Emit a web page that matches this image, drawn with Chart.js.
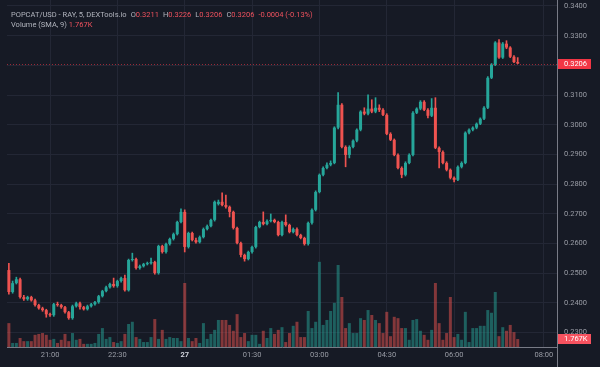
<!DOCTYPE html>
<html>
<head>
<meta charset="utf-8">
<script src="https://cdn.jsdelivr.net/npm/chart.js@4.4.1/dist/chart.umd.min.js"></script>
<style>
html,body{margin:0;padding:0;background:#161a25;}
#wrap{position:relative;width:600px;height:367px;overflow:hidden;background:#161a25;}
#c{position:absolute;left:0;top:0;}
#legend{position:absolute;left:11px;top:10px;font-family:Roboto,"Liberation Sans",sans-serif;font-size:7.5px;line-height:10px;color:#b2b5be;white-space:nowrap;}
#legend .v{color:#f0525e;}
#legend .k{margin-left:4px;}
</style>
</head>
<body>
<div id="wrap">
<canvas id="c" width="600" height="367"></canvas>
<div id="legend"></div>
</div>
<script>
// ---- categories (5-minute candles) ----
const times = [
"20:05","20:10","20:15","20:20","20:25","20:30","20:35","20:40","20:45","20:50","20:55",
"21:00","21:05","21:10","21:15","21:20","21:25","21:30","21:35","21:40","21:45","21:50","21:55",
"22:00","22:05","22:10","22:15","22:20","22:25","22:30","22:35","22:40","22:45","22:50","22:55",
"23:00","23:05","23:10","23:15","23:20","23:25","23:30","23:35","23:40","23:45","23:50","23:55",
"00:00","00:05","00:10","00:15","00:20","00:25","00:30","00:35","00:40","00:45","00:50","00:55",
"01:00","01:05","01:10","01:15","01:20","01:25","01:30","01:35","01:40","01:45","01:50","01:55",
"02:00","02:05","02:10","02:15","02:20","02:25","02:30","02:35","02:40","02:45","02:50","02:55",
"03:00","03:05","03:10","03:15","03:20","03:25","03:30","03:35","03:40","03:45","03:50","03:55",
"04:00","04:05","04:10","04:15","04:20","04:25","04:30","04:35","04:40","04:45","04:50","04:55",
"05:00","05:05","05:10","05:15","05:20","05:25","05:30","05:35","05:40","05:45","05:50","05:55",
"06:00","06:05","06:10","06:15","06:20","06:25","06:30","06:35","06:40","06:45","06:50","06:55",
"07:00","07:05","07:10","07:15","07:20","07:25","07:30","07:35","07:40","07:45","07:50","07:55",
"08:00","08:05","08:10","08:15"];

// ---- OHLC series ----
const openP = [
0.2510,0.2436,0.2466,0.2479,0.2419,0.2412,0.2419,0.2408,0.2392,0.2381,
0.2375,0.2361,0.2358,0.2395,0.2392,0.2385,0.2368,0.2348,0.2388,0.2398,
0.2385,0.2378,0.2388,0.2395,0.2402,0.2422,0.2439,0.2452,0.2463,0.2456,
0.2473,0.2483,0.2442,0.2544,0.2547,0.2517,0.2523,0.2530,0.2533,0.2537,
0.2500,0.2591,0.2571,0.2598,0.2615,0.2631,0.2672,0.2706,0.2588,0.2635,
0.2611,0.2604,0.2621,0.2648,0.2658,0.2679,0.2733,0.2740,0.2729,0.2723,
0.2706,0.2652,0.2601,0.2561,0.2547,0.2571,0.2588,0.2655,0.2672,0.2665,
0.2675,0.2679,0.2672,0.2628,0.2672,0.2662,0.2638,0.2648,0.2628,0.2618,
0.2598,0.2669,0.2713,0.2773,0.2831,0.2854,0.2865,0.2871,0.2990,0.3067,
0.2925,0.2898,0.2925,0.2946,0.2983,0.3044,0.3037,0.3054,0.3044,0.3057,
0.3050,0.3033,0.2969,0.2949,0.2898,0.2854,0.2831,0.2871,0.2898,0.3040,
0.3054,0.3077,0.3050,0.3030,0.3057,0.2922,0.2908,0.2871,0.2848,0.2821,
0.2814,0.2858,0.2871,0.2973,0.2983,0.2990,0.3003,0.3020,0.3057,0.3158,
0.3202,0.3277,0.3226,0.3273,0.3260,0.3229,0.3211];
const highP = [
0.2533,0.2473,0.2486,0.2483,0.2425,0.2422,0.2422,0.2412,0.2395,0.2385,
0.2378,0.2365,0.2398,0.2402,0.2395,0.2388,0.2371,0.2392,0.2402,0.2402,
0.2388,0.2392,0.2398,0.2405,0.2425,0.2442,0.2456,0.2466,0.2483,0.2476,
0.2486,0.2493,0.2547,0.2567,0.2550,0.2527,0.2533,0.2537,0.2550,0.2540,
0.2594,0.2594,0.2601,0.2618,0.2635,0.2675,0.2716,0.2713,0.2638,0.2638,
0.2618,0.2625,0.2652,0.2662,0.2682,0.2743,0.2746,0.2770,0.2763,0.2726,
0.2709,0.2655,0.2604,0.2564,0.2574,0.2591,0.2658,0.2675,0.2706,0.2679,
0.2699,0.2682,0.2675,0.2675,0.2696,0.2665,0.2652,0.2652,0.2631,0.2621,
0.2672,0.2716,0.2777,0.2834,0.2858,0.2871,0.2878,0.2993,0.3108,0.3071,
0.2929,0.2929,0.2949,0.2986,0.3047,0.3057,0.3101,0.3084,0.3091,0.3067,
0.3054,0.3037,0.2973,0.2952,0.2902,0.2858,0.2875,0.2902,0.3044,0.3057,
0.3081,0.3081,0.3054,0.3088,0.3091,0.2925,0.2912,0.2875,0.2851,0.2824,
0.2861,0.2875,0.2976,0.2986,0.2993,0.3006,0.3023,0.3061,0.3162,0.3206,
0.3280,0.3287,0.3277,0.3283,0.3263,0.3233,0.3226];
const lowP = [
0.2429,0.2432,0.2463,0.2415,0.2408,0.2408,0.2405,0.2388,0.2378,0.2371,
0.2351,0.2354,0.2354,0.2388,0.2381,0.2365,0.2344,0.2344,0.2385,0.2378,
0.2375,0.2375,0.2385,0.2392,0.2398,0.2419,0.2436,0.2449,0.2452,0.2452,
0.2469,0.2439,0.2439,0.2540,0.2513,0.2513,0.2520,0.2527,0.2530,0.2496,
0.2496,0.2567,0.2567,0.2594,0.2611,0.2628,0.2669,0.2571,0.2584,0.2608,
0.2601,0.2601,0.2618,0.2645,0.2655,0.2675,0.2729,0.2726,0.2719,0.2689,
0.2648,0.2598,0.2554,0.2540,0.2544,0.2567,0.2584,0.2652,0.2662,0.2662,
0.2672,0.2669,0.2625,0.2625,0.2658,0.2635,0.2635,0.2625,0.2615,0.2594,
0.2594,0.2665,0.2709,0.2770,0.2827,0.2851,0.2861,0.2868,0.2986,0.2922,
0.2858,0.2888,0.2922,0.2942,0.2979,0.3033,0.3033,0.3040,0.3040,0.3044,
0.3030,0.2966,0.2946,0.2895,0.2851,0.2821,0.2827,0.2868,0.2895,0.3037,
0.3050,0.3047,0.3023,0.3027,0.2919,0.2854,0.2868,0.2844,0.2817,0.2807,
0.2811,0.2854,0.2868,0.2969,0.2979,0.2986,0.3000,0.3017,0.3054,0.3155,
0.3199,0.3223,0.3223,0.3256,0.3226,0.3209,0.3206];
const closeP = [
0.2436,0.2466,0.2479,0.2419,0.2412,0.2419,0.2408,0.2392,0.2381,0.2375,
0.2361,0.2358,0.2395,0.2392,0.2385,0.2368,0.2348,0.2388,0.2398,0.2385,
0.2378,0.2388,0.2395,0.2402,0.2422,0.2439,0.2452,0.2463,0.2456,0.2473,
0.2483,0.2442,0.2544,0.2547,0.2517,0.2523,0.2530,0.2533,0.2537,0.2500,
0.2591,0.2571,0.2598,0.2615,0.2631,0.2672,0.2706,0.2588,0.2635,0.2611,
0.2604,0.2621,0.2648,0.2658,0.2679,0.2740,0.2740,0.2729,0.2723,0.2706,
0.2652,0.2601,0.2561,0.2547,0.2571,0.2588,0.2655,0.2672,0.2665,0.2675,
0.2679,0.2672,0.2628,0.2672,0.2662,0.2638,0.2648,0.2628,0.2618,0.2598,
0.2669,0.2713,0.2773,0.2831,0.2854,0.2865,0.2871,0.2990,0.3067,0.2925,
0.2898,0.2925,0.2946,0.2983,0.3044,0.3037,0.3054,0.3044,0.3057,0.3050,
0.3033,0.2969,0.2949,0.2898,0.2854,0.2831,0.2871,0.2898,0.3040,0.3054,
0.3077,0.3050,0.3030,0.3057,0.2922,0.2908,0.2871,0.2848,0.2821,0.2814,
0.2858,0.2871,0.2973,0.2983,0.2990,0.3003,0.3020,0.3057,0.3158,0.3202,
0.3277,0.3226,0.3273,0.3260,0.3229,0.3211,0.3206];
// volume in thousands
const volumeK = [
5.3,0.9,0.9,2.0,1.3,1.3,1.3,2.7,2.9,3.1,
2.7,1.6,1.8,0.9,1.6,2.9,1.3,3.1,1.6,1.8,
0.7,0.7,0.7,0.9,2.9,4.2,1.8,2.2,1.1,0.9,
1.3,2.9,5.1,5.6,2.2,1.8,1.1,1.1,2.2,6.2,
1.8,3.8,1.8,2.2,2.0,2.0,1.3,14.2,2.0,1.3,
2.0,0.9,5.3,1.8,2.9,3.8,6.0,6.0,6.0,4.9,
3.6,7.3,2.2,3.1,1.3,2.7,2.7,0.7,3.6,2.0,
4.2,2.9,3.8,4.4,1.1,3.1,4.7,5.6,2.2,2.2,
8.0,4.2,5.6,18.9,4.9,6.0,8.0,9.8,18.2,11.1,
4.2,5.3,3.1,3.1,6.4,6.0,8.2,7.1,6.0,5.3,
3.1,7.8,2.4,6.7,6.4,4.2,4.2,1.6,6.0,6.2,
3.6,2.7,1.6,3.8,14.2,5.3,1.6,3.1,11.1,2.2,
2.9,1.6,7.8,1.1,4.2,4.2,4.7,4.7,8.2,7.6,
12.2,2.4,4.4,3.6,4.9,3.3,1.767];

// ---- tick labels ----
const priceTicks = [0.23,0.24,0.25,0.26,0.27,0.28,0.29,0.30,0.31,0.32,0.33,0.34];
const timeTicks = ["21:00","22:30","00:00","01:30","03:00","04:30","06:00","08:00"];
const timeTickLabels = ["21:00","22:30","27","01:30","03:00","04:30","06:00","08:00"];

// ---- legend text ----
const titleText = "POPCAT/USD - RAY, 5, DEXTools.io";
const ohlcNames = ["O","H","L","C"];
const ohlcText = ["0.3211","0.3226","0.3206","0.3206"];
const changeText = "-0.0004 (-0.13%)";
const volTitle = "Volume (SMA, 9)";
const volText = "1.767K";
const lastPriceText = "0.3206";

(function buildLegend(){
  const el = document.getElementById('legend');
  let l1 = '<div>' + titleText;
  ohlcNames.forEach((n,i)=>{ l1 += '<span class="k">' + n + '</span><span class="v">' + ohlcText[i] + '</span>'; });
  l1 += '<span class="k v">' + changeText + '</span></div>';
  const l2 = '<div>' + volTitle + ' <span class="v">' + volText + '</span></div>';
  el.innerHTML = l1 + l2;
})();

const UP = '#26a69a', DOWN = '#ef5350';
const UP_V = 'rgba(38,166,154,0.5)', DOWN_V = 'rgba(239,83,80,0.5)';
const BG = '#161a25', GRID = '#232735', AXIS = '#787b86', TXT = '#9a9da6';
const FONT = 'Roboto, "Liberation Sans", sans-serif';
const isUp = i => closeP[i] >= openP[i];

const bgPlugin = {
  id: 'bg',
  beforeDraw(chart){
    const c = chart.ctx;
    c.save(); c.fillStyle = BG; c.fillRect(0,0,chart.width,chart.height); c.restore();
  }
};

const lastPlugin = {
  id: 'lastvalue',
  afterDatasetsDraw(chart){
    const c = chart.ctx, a = chart.chartArea, y = chart.scales.y;
    const py = Math.round(y.getPixelForValue(closeP[closeP.length-1])) + 0.5;
    c.save();
    c.strokeStyle = 'rgba(242,54,69,0.6)'; c.lineWidth = 1; c.setLineDash([1,2]);
    c.beginPath(); c.moveTo(a.left, py); c.lineTo(a.right, py); c.stroke();
    c.restore();
  },
  afterDraw(chart){
    const c = chart.ctx, a = chart.chartArea, y = chart.scales.y, yv = chart.scales.yv;
    c.save();
    c.strokeStyle = AXIS; c.lineWidth = 1;
    c.beginPath(); c.moveTo(a.right + 0.5, a.bottom); c.lineTo(a.right + 0.5, chart.height); c.stroke();
    const py = y.getPixelForValue(closeP[closeP.length-1]);
    const bh = 10, bx = a.right + 1, bw = 33;
    c.fillStyle = '#f23645';
    c.fillRect(bx, Math.round(py - bh/2), bw, bh);
    c.fillStyle = '#ffffff';
    c.font = '7.5px ' + FONT; c.textBaseline = 'middle'; c.textAlign = 'left';
    c.fillText(lastPriceText, a.right + 7, Math.round(py) + 0.5);
    let vy = yv.getPixelForValue(volumeK[volumeK.length-1]);
    vy = Math.min(vy, a.bottom - bh/2);
    c.fillStyle = '#f7525f';
    c.fillRect(bx, Math.round(vy - bh/2), bw, bh);
    c.fillStyle = '#ffffff';
    c.fillText(volText, a.right + 7, Math.round(vy) + 0.5);
    c.restore();
  }
};

new Chart(document.getElementById('c'), {
  type: 'bar',
  data: {
    labels: times,
    datasets: [
      {
        label: 'Volume', data: volumeK, yAxisID: 'yv', grouped: false, order: 3,
        backgroundColor: ctx => isUp(ctx.dataIndex) ? UP_V : DOWN_V,
        barPercentage: 0.8, categoryPercentage: 1
      },
      {
        label: 'Wick', data: lowP.map((l,i) => [l, highP[i]]), yAxisID: 'y', grouped: false, order: 2,
        backgroundColor: ctx => isUp(ctx.dataIndex) ? UP : DOWN,
        barThickness: 1
      },
      {
        label: 'Body', data: openP.map((o,i) => [o, closeP[i]]), yAxisID: 'y', grouped: false, order: 1,
        backgroundColor: ctx => isUp(ctx.dataIndex) ? UP : DOWN,
        barPercentage: 0.8, categoryPercentage: 1, minBarLength: 1
      }
    ]
  },
  options: {
    responsive: false, animation: false, devicePixelRatio: 1,
    layout: { padding: { left: 7, top: 0, right: 0, bottom: 0 } },
    plugins: { legend: { display: false }, tooltip: { enabled: false } },
    scales: {
      x: {
        type: 'category', offset: true,
        grid: { offset: false, color: GRID, drawTicks: false },
        border: { display: true, color: AXIS },
        afterBuildTicks: ax => { ax.ticks = ax.ticks.filter(t => timeTicks.includes(times[t.value])); },
        afterFit: ax => { ax.height = 20; ax.paddingLeft = 0; ax.paddingRight = 0; },
        ticks: {
          autoSkip: false, maxRotation: 0, padding: 4,
          callback: v => timeTickLabels[timeTicks.indexOf(times[v])],
          color: ctx => ctx.tick && ctx.tick.label === '27' ? '#d1d4dc' : TXT,
          font: ctx => ({ family: FONT, size: 7.5, weight: (ctx.tick && ctx.tick.label === '27') ? 'bold' : 'normal' })
        }
      },
      y: {
        position: 'right', min: 0.22507, max: 0.34202,
        grid: { color: GRID, drawTicks: false },
        border: { display: true, color: AXIS },
        afterBuildTicks: ax => { ax.ticks = priceTicks.map(v => ({ value: v })); },
        afterFit: ax => { ax.width = 43; ax.paddingTop = 0; ax.paddingBottom = 0; },
        ticks: { padding: 7, color: TXT, font: { family: FONT, size: 7.5 }, callback: v => Number(v).toFixed(4) }
      },
      yv: { display: false, min: 0, max: 77 }
    }
  },
  plugins: [bgPlugin, lastPlugin]
});
</script>
</body>
</html>
